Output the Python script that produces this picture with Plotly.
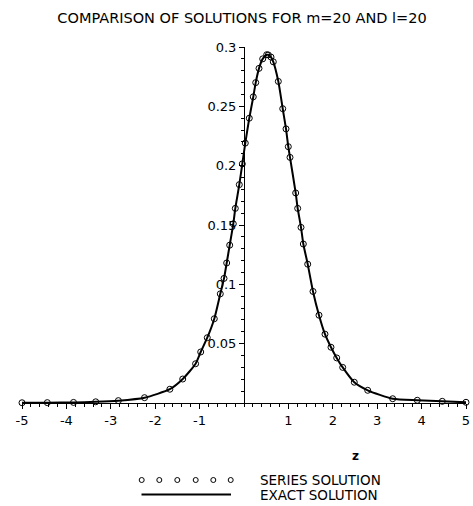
import plotly.graph_objects as go

# ---- data ----
z_vals = [-5.00, -4.43, -3.84, -3.34, -2.83, -2.24, -1.67, -1.38, -1.09, -0.975,
          -0.827, -0.669, -0.534, -0.45, -0.39, -0.322, -0.241, -0.196, -0.106, -0.038,
          0.029, 0.119, 0.209, 0.264, 0.338, 0.421, 0.511, 0.547, 0.608, 0.66,
          0.773, 0.872, 0.946, 0.998, 1.036, 1.164, 1.209, 1.284, 1.336, 1.435,
          1.554, 1.689, 1.824, 1.959, 2.088, 2.223, 2.484, 2.786, 3.349, 3.903,
          4.466, 5.00]
series_vals = [0.0002, 0.0003, 0.0005, 0.0010, 0.0020, 0.0045, 0.0116, 0.0202, 0.0331, 0.0430,
               0.0550, 0.0710, 0.0920, 0.1050, 0.1180, 0.1330, 0.1510, 0.1640, 0.1840, 0.2015,
               0.2190, 0.2400, 0.2580, 0.2700, 0.2820, 0.2900, 0.2935, 0.2933, 0.2915, 0.2875,
               0.2710, 0.2480, 0.2310, 0.2160, 0.2070, 0.1770, 0.1640, 0.1480, 0.1340, 0.1170,
               0.0940, 0.0740, 0.0580, 0.0470, 0.0380, 0.0300, 0.0175, 0.0107, 0.0036, 0.0023,
               0.0014, 0.0006]
exact_vals = list(series_vals)

x_ticks = [-5, -4, -3, -2, -1, 1, 2, 3, 4, 5]
x_tick_text = ["-5", "-4", "-3", "-2", "-1", "1", "2", "3", "4", "5"]
y_ticks = [0.05, 0.1, 0.15, 0.2, 0.25, 0.3]
y_tick_text = ["0.05", "0.1", "0.15", "0.2", "0.25", "0.3"]

title_text = "COMPARISON OF SOLUTIONS FOR m=20 AND l=20"
x_label = "z"
legend_labels = ["SERIES SOLUTION", "EXACT SOLUTION"]

# ---- layout geometry (pixels) ----
W, H = 473, 506
L, R, T, B = 22, 7, 47, 103
PW, PH = W - L - R, H - T - B

def px(xp):
    return (xp - L) / PW

def py(yp):
    return (H - B - yp) / PH

FONT = "DejaVu Sans"

fig = go.Figure()
fig.add_trace(go.Scatter(x=z_vals, y=exact_vals, mode="lines",
                         line=dict(color="black", width=2, shape="spline", smoothing=0.6),
                         showlegend=False, cliponaxis=False))
fig.add_trace(go.Scatter(x=z_vals, y=series_vals, mode="markers",
                         marker=dict(symbol="circle-open", size=6, color="black",
                                     line=dict(width=1, color="black")),
                         showlegend=False, cliponaxis=False))

shapes = []
# legend sample: open circles
for cx in [141.7, 159.3, 177.3, 195.7, 213.3, 230.7]:
    r = 2.5
    shapes.append(dict(type="circle", xref="paper", yref="paper",
                       x0=px(cx - r), x1=px(cx + r), y0=py(480 + r), y1=py(480 - r),
                       line=dict(color="black", width=1)))
# legend sample: solid line
shapes.append(dict(type="line", xref="paper", yref="paper",
                   x0=px(141.5), x1=px(231), y0=py(494.5), y1=py(494.5),
                   line=dict(color="black", width=2)))

annotations = [
    dict(text=x_label, xref="paper", yref="paper", x=px(355), y=py(455.5),
         xanchor="center", yanchor="middle", showarrow=False,
         font=dict(family=FONT, size=12, color="black", weight="bold")),
    dict(text=legend_labels[0], xref="paper", yref="paper", x=px(258), y=py(479.5),
         xanchor="left", yanchor="middle", showarrow=False,
         font=dict(family=FONT, size=13.5, color="black")),
    dict(text=legend_labels[1], xref="paper", yref="paper", x=px(258), y=py(495),
         xanchor="left", yanchor="middle", showarrow=False,
         font=dict(family=FONT, size=13.5, color="black")),
]

fig.update_layout(
    width=W, height=H,
    margin=dict(l=L, r=R, t=T, b=B, pad=0, autoexpand=False),
    paper_bgcolor="white", plot_bgcolor="white",
    title=dict(text=title_text, x=242 / W, xref="container", xanchor="center",
               y=1 - 18 / H, yref="container", yanchor="middle",
               font=dict(family=FONT, size=14.5, color="black")),
    xaxis=dict(range=[-5, 5], tickmode="array", tickvals=x_ticks, ticktext=x_tick_text,
               ticks="outside", ticklen=5, tickcolor="black", tickwidth=1,
               showline=True, linecolor="black", linewidth=1,
               showgrid=False, zeroline=False, automargin=False,
               minor=dict(tickmode="linear", tick0=-5, dtick=0.2, ticks="outside",
                          ticklen=3, tickcolor="black", showgrid=False),
               tickfont=dict(family=FONT, size=13, color="black")),
    yaxis=dict(range=[0, 0.3], tickmode="array", tickvals=y_ticks, ticktext=y_tick_text,
               anchor="free", position=0.5, automargin=False,
               ticks="outside", ticklen=5, tickcolor="black", tickwidth=1,
               showline=True, linecolor="black", linewidth=1,
               showgrid=False, zeroline=False,
               minor=dict(tickmode="linear", tick0=0, dtick=0.01, ticks="outside",
                          ticklen=3, tickcolor="black", showgrid=False),
               tickfont=dict(family=FONT, size=13, color="black")),
    shapes=shapes,
    annotations=annotations,
)

fig.write_html("out.html", config={"displayModeBar": False},
               post_script="document.body.style.margin='0';document.body.style.overflow='hidden';")
